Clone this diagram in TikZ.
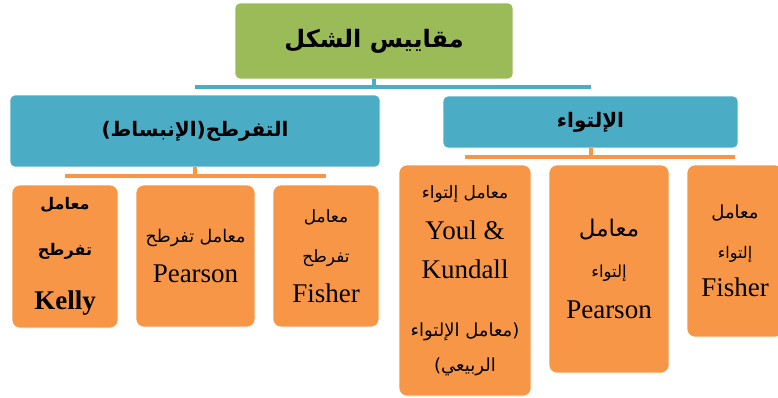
\documentclass[tikz,border=0pt]{standalone}
\usepackage{fontspec}
\setmainfont{Liberation Serif}
\newfontfamily\arabicfont[Script=Arabic]{DejaVu Sans}
\TeXXeTstate=1
\newcommand\ARf[1]{\fontsize{#1}{#1}\selectfont\arabicfont}
\newcommand\LT[2]{{\fontsize{#1}{#1}\selectfont #2}}
\definecolor{boxgreen}{HTML}{9BBB59}
\definecolor{boxblue}{HTML}{4BACC6}
\definecolor{boxorange}{HTML}{F79646}
\tikzset{
  topbox/.style={fill=boxgreen, draw=white, line width=0.6pt, rounded corners=5pt, inner sep=0pt, align=center},
  midbox/.style={fill=boxblue, draw=white, line width=0.6pt, rounded corners=5pt, inner sep=0pt, align=center},
  leafbox/.style={fill=boxorange, draw=white, line width=0.6pt, rounded corners=8pt, inner sep=0pt, align=center},
  bluebar/.style={draw=boxblue, line width=4pt},
  orangebar/.style={draw=boxorange, line width=4pt}
}
\begin{document}
\begin{tikzpicture}[x=1pt,y=-1pt]
\useasboundingbox (0,0) rectangle (778,397);
\clip (0,0) rectangle (778,397);
% top
\node[topbox, minimum width=278pt, minimum height=76pt] (G) at (374,41)
  {{\ARf{24}\bfseries\beginR مقاييس الشكل\endR}};
% level 2
\node[midbox, minimum width=370pt, minimum height=72pt] (L) at (195,131)
  {{\ARf{20}\bfseries\beginR التفرطح(الإنبساط)\endR}};
\node[midbox, minimum width=295pt, minimum height=52pt] (R) at (590.5,122)
  {{\ARf{20}\bfseries\beginR الإلتواء\endR}};
% leaves left
\node[leafbox, minimum width=106pt, minimum height=143pt, font=\fontsize{16}{46}\selectfont] (b1) at (65,256.5)
  {{\ARf{16}\bfseries\beginR معامل\endR}\\ {\ARf{16}\bfseries\beginR تفرطح\endR}\\[8pt] \LT{27}{\bfseries Kelly}};
\node[leafbox, minimum width=119pt, minimum height=142pt, font=\fontsize{15}{40}\selectfont] (b2) at (195.5,256)
  {{\ARf{17.5}\beginR معامل تفرطح\endR}\\ \LT{27}{Pearson}};
\node[leafbox, minimum width=106pt, minimum height=142pt, font=\fontsize{15}{40}\selectfont] (b3) at (326,256)
  {{\ARf{17}\beginR معامل\endR}\\ {\ARf{17}\beginR تفرطح\endR}\\ \LT{27}{Fisher}};
% leaves right
\node[leafbox, minimum width=132pt, minimum height=231pt, font=\fontsize{15}{39}\selectfont] (c1) at (465,280.5)
  {{\ARf{17}\beginR معامل إلتواء\endR}\\[2pt] \LT{27}{Youl \&}\\ \LT{27}{Kundall}\\[19pt]
   {\ARf{18}\beginR (معامل الإلتواء\endR}\\[-4pt] {\ARf{18}\beginR الربيعي)\endR}};
\node[leafbox, minimum width=120pt, minimum height=208pt, font=\fontsize{14}{41}\selectfont] (c2) at (609,269)
  {{\ARf{23}\beginR معامل\endR}\\ {\ARf{16.5}\beginR إلتواء\endR}\\ \LT{27}{Pearson}};
\node[leafbox, minimum width=96pt, minimum height=172pt, font=\fontsize{14}{40}\selectfont] (c3) at (735,251)
  {{\ARf{18}\beginR معامل\endR}\\ {\ARf{16}\beginR إلتواء\endR}\\[-2pt] \LT{27}{Fisher}};
% connectors
\coordinate (gb) at (374,87);
\coordinate (lb) at (195,176);
\coordinate (rb) at (590,156.5);
\draw[bluebar] (G.south) -- (G.south |- gb);
\draw[bluebar] (L.center |- gb) -- (R.center |- gb);
\draw[orangebar] (L.south) -- (L.south |- lb);
\draw[orangebar] (b1.center |- lb) -- (b3.center |- lb);
\draw[orangebar] (R.south) -- (R.south |- rb);
\draw[orangebar] (c1.center |- rb) -- (c3.center |- rb);
\end{tikzpicture}
\end{document}
